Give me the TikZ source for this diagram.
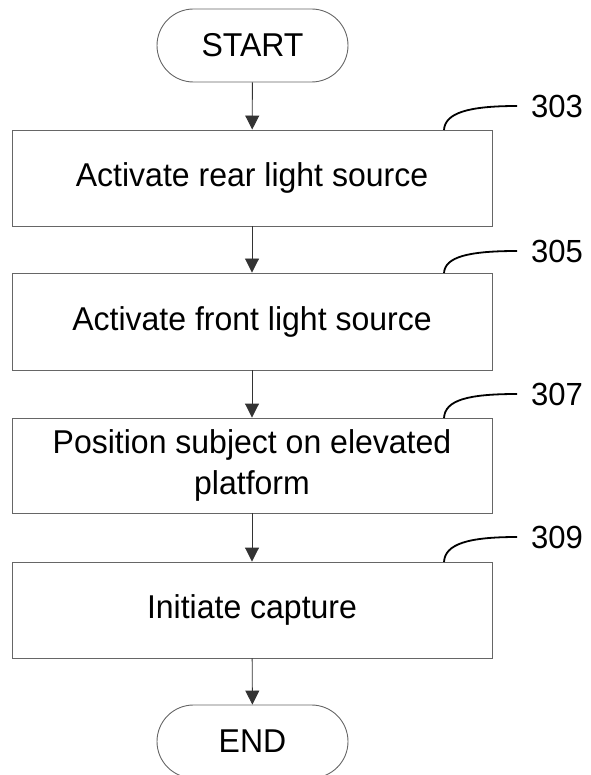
\documentclass[tikz,border=0pt]{standalone}
\usepackage{fontspec}
\setmainfont[FakeStretch=0.97]{Liberation Sans}
\usetikzlibrary{arrows.meta}
\begin{document}
\begin{tikzpicture}[x=1pt,y=1pt,
  every node/.style={font=\fontsize{33}{41}\selectfont, inner sep=0pt},
  stepbox/.style={draw=black!60, line width=0.9pt, minimum width=480pt, minimum height=96pt, align=center},
  term/.style={draw=black!60, line width=0.9pt, minimum width=191pt, minimum height=73pt, rounded corners=36.5pt},
  flow/.style={draw=black!80, line width=0.9pt, -{Triangle[width=14pt,length=14pt]}},
  lead/.style={draw=black, line width=1.8pt},
  reflabel/.style={anchor=west, font=\fontsize{32}{38}\selectfont}]
\useasboundingbox (0,0) rectangle (590,-775);
\node[term] (start) at (252.5,-45.5) {START};
\node[stepbox] (b1) at (252,-178) {Activate rear light source};
\node[stepbox, minimum height=97pt] (b2) at (252,-321.5) {Activate front light source};
\node[stepbox, minimum height=95pt] (b3) at (252,-465.5) {Position subject on elevated\\platform};
\node[stepbox] (b4) at (252,-610) {Initiate capture};
\node[term] (end) at (252.5,-741.5) {END};
\draw[flow] (start) -- (b1);
\draw[flow] (b1) -- (b2);
\draw[flow] (b2) -- (b3);
\draw[flow] (b3) -- (b4);
\draw[flow] (b4) -- (end);
\node[reflabel] (l303) at (531,-106) {303};
\node[reflabel] (l305) at (531,-251) {305};
\node[reflabel] (l307) at (531,-394) {307};
\node[reflabel] (l309) at (531,-537) {309};
\coordinate (c1) at (444,-130);
\coordinate (c2) at (444,-273);
\coordinate (c3) at (444,-418);
\coordinate (c4) at (444,-562);
\draw[lead] (c1) .. controls (445,-113) and (468,-106) .. ([xshift=-14pt]l303.west);
\draw[lead] (c2) .. controls (445,-257) and (468,-251) .. ([xshift=-14pt]l305.west);
\draw[lead] (c3) .. controls (445,-400) and (468,-394) .. ([xshift=-14pt]l307.west);
\draw[lead] (c4) .. controls (445,-544) and (468,-537) .. ([xshift=-14pt]l309.west);
\end{tikzpicture}
\end{document}
